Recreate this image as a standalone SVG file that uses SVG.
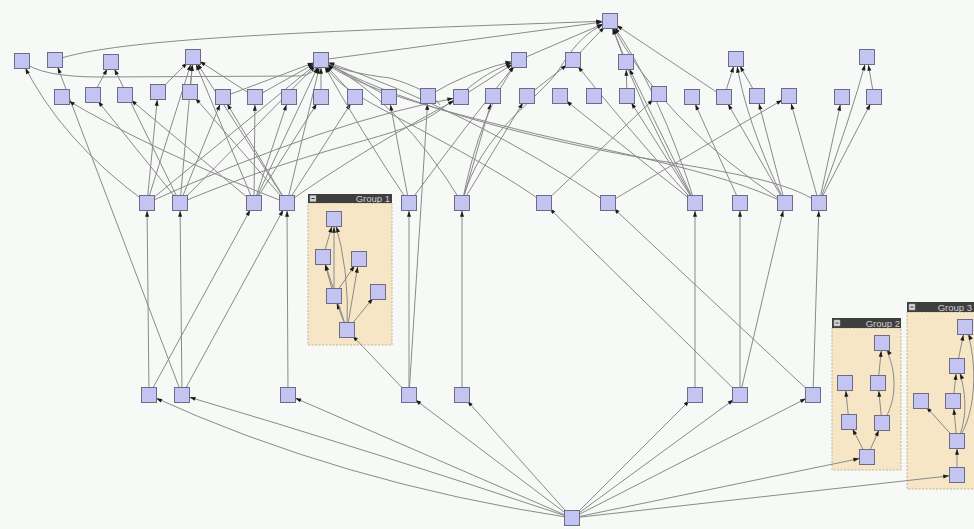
<svg xmlns="http://www.w3.org/2000/svg" width="974" height="529" viewBox="0 0 974 529">
  <style>
    .n rect { fill: #c4c4f3; stroke: #6c6c88; stroke-width: 1; }
    .e path { fill: none; stroke: #8a8a8a; stroke-width: 1; marker-end: url(#ah); }
    .grp-body { fill: #f6e6c6; stroke: #bfb39a; stroke-width: 1; stroke-dasharray: 2 1.5; }
    .grp-head { fill: #3e3e3e; }
    .grp-icon { fill: #d8d8d8; stroke: #9a9a9a; stroke-width: 0.5; }
    .grp-label { font-family: "Liberation Sans", Arial, sans-serif; font-size: 9.5px; fill: #cfcfcf; text-anchor: end; }
  </style>
  <defs>
    <!-- arrowhead drawn 8px short of the path end so it sits on the node border -->
    <marker id="ah" viewBox="0 0 10 10" refX="23" refY="5" markerWidth="6" markerHeight="4" markerUnits="userSpaceOnUse" orient="auto" preserveAspectRatio="none" overflow="visible">
      <path d="M0,0 L10,5 L0,10 z" fill="#1c1c1c"/>
    </marker>
  </defs>

  <rect width="974" height="529" fill="#f6f9f6"/>

  <!-- group containers -->
  <g id="group-1">
    <rect class="grp-body" x="308" y="203" width="84" height="142"/>
    <rect class="grp-head" x="308" y="194" width="84" height="9"/>
    <rect class="grp-icon" x="310" y="195.5" width="6" height="6"/>
    <line x1="311.5" y1="198.5" x2="314.5" y2="198.5" stroke="#333" stroke-width="1"/>
    <text class="grp-label" x="390" y="202">Group 1</text>
  </g>
  <g id="group-2">
    <rect class="grp-body" x="832" y="328" width="69" height="142"/>
    <rect class="grp-head" x="832" y="318" width="69" height="10"/>
    <rect class="grp-icon" x="834" y="320" width="6" height="6"/>
    <line x1="835.5" y1="323" x2="838.5" y2="323" stroke="#333" stroke-width="1"/>
    <text class="grp-label" x="900" y="326.5">Group 2</text>
  </g>
  <g id="group-3">
    <rect class="grp-body" x="907" y="312" width="74" height="177"/>
    <rect class="grp-head" x="907" y="302" width="74" height="10"/>
    <rect class="grp-icon" x="909" y="304" width="6" height="6"/>
    <line x1="910.5" y1="307" x2="913.5" y2="307" stroke="#333" stroke-width="1"/>
    <text class="grp-label" x="972" y="310.5">Group 3</text>
  </g>

  <!-- connectors: every path runs from source centre to target centre -->
  <g id="connectors" class="e">
    <!-- root fan-out -->
    <path d="M572,518 Q340,483 149,395"/>
    <path d="M572,518 Q375,452 182,395"/>
    <path d="M572,518 L288,395"/>
    <path d="M572,518 L409,395"/>
    <path d="M572,518 L462,395"/>
    <path d="M572,518 L695,395"/>
    <path d="M572,518 L740,395"/>
    <path d="M572,518 L813,395"/>
    <path d="M572,518 L867,457"/>
    <path d="M572,518 L957,475"/>

    <!-- lower row to middle row -->
    <path d="M149,395 L147,203"/>
    <path d="M149,395 L254,203"/>
    <path d="M182,395 L180,203"/>
    <path d="M182,395 L287,203"/>
    <path d="M182,395 L55,60"/>
    <path d="M288,395 L287,203"/>
    <path d="M409,395 L409,203"/>
    <path d="M409,395 L428,96"/>
    <path d="M409,395 L347,330"/>
    <path d="M462,395 L462,203"/>
    <path d="M695,395 L695,203"/>
    <path d="M740,395 L740,203"/>
    <path d="M740,395 L544,203"/>
    <path d="M740,395 L785,203"/>
    <path d="M813,395 L819,203"/>
    <path d="M813,395 L608,203"/>

    <!-- middle row upward -->
    <path d="M147,203 Q60,140 22,61"/>
    <path d="M147,203 L158,92"/>
    <path d="M147,203 L193,57"/>
    <path d="M147,203 L321,60"/>
    <path d="M147,203 Q330,120 461,97"/>

    <path d="M180,203 L93,95"/>
    <path d="M180,203 L111,62"/>
    <path d="M180,203 L223,97"/>
    <path d="M180,203 L193,57"/>
    <path d="M180,203 L321,60"/>
    <path d="M180,203 C330,140 400,140 440,110 S 480,75 519,60"/>

    <path d="M254,203 L255,97"/>
    <path d="M254,203 L289,97"/>
    <path d="M254,203 L321,97"/>
    <path d="M254,203 L193,57"/>
    <path d="M254,203 L321,60"/>
    <path d="M254,203 L125,95"/>

    <path d="M287,203 Q150,150 62,97"/>
    <path d="M287,203 L190,92"/>
    <path d="M287,203 L223,97"/>
    <path d="M287,203 L193,57"/>
    <path d="M287,203 L321,60"/>
    <path d="M287,203 L355,97"/>
    <path d="M287,203 C340,165 400,130 461,97"/>

    <path d="M409,203 L389,97"/>
    <path d="M409,203 Q360,130 321,60"/>
    <path d="M409,203 Q470,120 519,60"/>

    <path d="M462,203 L493,96"/>
    <path d="M462,203 L527,96"/>
    <path d="M462,203 Q480,110 519,60"/>
    <path d="M462,203 Q400,100 321,60"/>
    <path d="M462,203 C480,130 540,100 560,68 S 592,30 610,21"/>

    <path d="M544,203 L659,94"/>
    <path d="M544,203 C500,170 420,130 380,108 S 335,80 321,60"/>

    <path d="M608,203 L789,96"/>
    <path d="M608,203 Q470,110 321,60"/>

    <path d="M695,203 L560,96"/>
    <path d="M695,203 L627,96"/>
    <path d="M695,203 L626,62"/>
    <path d="M695,203 Q620,120 573,60"/>
    <path d="M695,203 Q660,90 610,21"/>
    <path d="M695,203 Q640,110 610,21"/>

    <path d="M740,203 L692,97"/>

    <path d="M785,203 L724,97"/>
    <path d="M785,203 L757,96"/>
    <path d="M785,203 Q745,120 736,59"/>
    <path d="M785,203 Q660,120 610,21"/>
    <path d="M785,203 C720,170 600,150 520,130 S 360,90 321,60"/>

    <path d="M819,203 L789,96"/>
    <path d="M819,203 L842,97"/>
    <path d="M819,203 L874,97"/>
    <path d="M819,203 Q850,120 867,57"/>
    <path d="M819,203 C780,175 690,168 600,150 S 390,100 321,60"/>

    <!-- second row to top row -->
    <path d="M93,95 L111,62"/>
    <path d="M158,92 L193,57"/>
    <path d="M190,92 L193,57"/>
    <path d="M223,97 L321,60"/>
    <path d="M255,97 L321,60"/>
    <path d="M255,97 L193,57"/>
    <path d="M321,97 L321,60"/>
    <path d="M355,97 L321,60"/>
    <path d="M389,97 L321,60"/>
    <path d="M428,96 Q470,70 519,60"/>
    <path d="M461,97 L519,60"/>
    <path d="M527,96 L573,60"/>
    <path d="M627,96 L626,62"/>
    <path d="M724,97 L736,59"/>
    <path d="M757,96 L736,59"/>
    <path d="M874,97 L867,57"/>
    <path d="M724,97 L610,21"/>

    <!-- top row links -->
    <path d="M22,61 Q40,77 100,77 L300,76 Q315,75 321,60"/>
    <path d="M321,60 Q340,72 390,78 Q430,90 440,105"/>
    <path d="M55,60 C120,38 300,32 610,21"/>
    <path d="M321,60 L610,21"/>
    <path d="M519,60 L610,21"/>
    <path d="M573,60 L610,21"/>
    <path d="M626,62 L610,21"/>

    <!-- inside group 1 -->
    <path d="M347,330 L334,296"/>
    <path d="M347,330 L378,292"/>
    <path d="M347,330 L359,259"/>
    <path d="M347,330 Q350,270 334,219"/>
    <path d="M347,330 L323,257"/>
    <path d="M334,296 L323,257"/>
    <path d="M334,296 L359,259"/>
    <path d="M334,296 L334,219"/>
    <path d="M323,257 L334,219"/>

    <!-- inside group 2 -->
    <path d="M867,457 L849,422"/>
    <path d="M867,457 L882,423"/>
    <path d="M849,422 L845,383"/>
    <path d="M882,423 L878,383"/>
    <path d="M878,383 L882,343"/>
    <path d="M882,423 C900,400 896,362 882,343"/>

    <!-- inside group 3 -->
    <path d="M957,475 L957,441"/>
    <path d="M957,441 L921,401"/>
    <path d="M957,441 L953,401"/>
    <path d="M953,401 L957,366"/>
    <path d="M957,441 C968,420 967,390 957,366"/>
    <path d="M957,366 L965,327"/>
    <path d="M957,441 C980,410 976,350 965,327"/>
  </g>

  <!-- nodes -->
  <g class="n">
    <g id="n-T"><rect x="602.5" y="13.5" width="15" height="15"/></g>
    <g id="n-A1"><rect x="14.5" y="53.5" width="15" height="15"/></g>
    <g id="n-A2"><rect x="47.5" y="52.5" width="15" height="15"/></g>
    <g id="n-A3"><rect x="103.5" y="54.5" width="15" height="15"/></g>
    <g id="n-A4"><rect x="185.5" y="49.5" width="15" height="15"/></g>
    <g id="n-A5"><rect x="313.5" y="52.5" width="15" height="15"/></g>
    <g id="n-A6"><rect x="511.5" y="52.5" width="15" height="15"/></g>
    <g id="n-A7"><rect x="565.5" y="52.5" width="15" height="15"/></g>
    <g id="n-A8"><rect x="618.5" y="54.5" width="15" height="15"/></g>
    <g id="n-A9"><rect x="728.5" y="51.5" width="15" height="15"/></g>
    <g id="n-A10"><rect x="859.5" y="49.5" width="15" height="15"/></g>

    <g id="n-B1"><rect x="54.5" y="89.5" width="15" height="15"/></g>
    <g id="n-B2"><rect x="85.5" y="87.5" width="15" height="15"/></g>
    <g id="n-B3"><rect x="117.5" y="87.5" width="15" height="15"/></g>
    <g id="n-B4"><rect x="150.5" y="84.5" width="15" height="15"/></g>
    <g id="n-B5"><rect x="182.5" y="84.5" width="15" height="15"/></g>
    <g id="n-B6"><rect x="215.5" y="89.5" width="15" height="15"/></g>
    <g id="n-B7"><rect x="247.5" y="89.5" width="15" height="15"/></g>
    <g id="n-B8"><rect x="281.5" y="89.5" width="15" height="15"/></g>
    <g id="n-B9"><rect x="313.5" y="89.5" width="15" height="15"/></g>
    <g id="n-B10"><rect x="347.5" y="89.5" width="15" height="15"/></g>
    <g id="n-B11"><rect x="381.5" y="89.5" width="15" height="15"/></g>
    <g id="n-B12"><rect x="420.5" y="88.5" width="15" height="15"/></g>
    <g id="n-B13"><rect x="453.5" y="89.5" width="15" height="15"/></g>
    <g id="n-B14"><rect x="485.5" y="88.5" width="15" height="15"/></g>
    <g id="n-B15"><rect x="519.5" y="88.5" width="15" height="15"/></g>
    <g id="n-B16"><rect x="552.5" y="88.5" width="15" height="15"/></g>
    <g id="n-B17"><rect x="586.5" y="88.5" width="15" height="15"/></g>
    <g id="n-B18"><rect x="619.5" y="88.5" width="15" height="15"/></g>
    <g id="n-B19"><rect x="651.5" y="86.5" width="15" height="15"/></g>
    <g id="n-B20"><rect x="684.5" y="89.5" width="15" height="15"/></g>
    <g id="n-B21"><rect x="716.5" y="89.5" width="15" height="15"/></g>
    <g id="n-B22"><rect x="749.5" y="88.5" width="15" height="15"/></g>
    <g id="n-B23"><rect x="781.5" y="88.5" width="15" height="15"/></g>
    <g id="n-B24"><rect x="834.5" y="89.5" width="15" height="15"/></g>
    <g id="n-B25"><rect x="866.5" y="89.5" width="15" height="15"/></g>

    <g id="n-M1"><rect x="139.5" y="195.5" width="15" height="15"/></g>
    <g id="n-M2"><rect x="172.5" y="195.5" width="15" height="15"/></g>
    <g id="n-M3"><rect x="246.5" y="195.5" width="15" height="15"/></g>
    <g id="n-M4"><rect x="279.5" y="195.5" width="15" height="15"/></g>
    <g id="n-M5"><rect x="401.5" y="195.5" width="15" height="15"/></g>
    <g id="n-M6"><rect x="454.5" y="195.5" width="15" height="15"/></g>
    <g id="n-M7"><rect x="536.5" y="195.5" width="15" height="15"/></g>
    <g id="n-M8"><rect x="600.5" y="195.5" width="15" height="15"/></g>
    <g id="n-M9"><rect x="687.5" y="195.5" width="15" height="15"/></g>
    <g id="n-M10"><rect x="732.5" y="195.5" width="15" height="15"/></g>
    <g id="n-M11"><rect x="777.5" y="195.5" width="15" height="15"/></g>
    <g id="n-M12"><rect x="811.5" y="195.5" width="15" height="15"/></g>

    <g id="n-L1"><rect x="141.5" y="387.5" width="15" height="15"/></g>
    <g id="n-L2"><rect x="174.5" y="387.5" width="15" height="15"/></g>
    <g id="n-L3"><rect x="280.5" y="387.5" width="15" height="15"/></g>
    <g id="n-L4"><rect x="401.5" y="387.5" width="15" height="15"/></g>
    <g id="n-L5"><rect x="454.5" y="387.5" width="15" height="15"/></g>
    <g id="n-L6"><rect x="687.5" y="387.5" width="15" height="15"/></g>
    <g id="n-L7"><rect x="732.5" y="387.5" width="15" height="15"/></g>
    <g id="n-L8"><rect x="805.5" y="387.5" width="15" height="15"/></g>

    <g id="n-root"><rect x="564.5" y="510.5" width="15" height="15"/></g>

    <g id="n-G1a"><rect x="326.5" y="211.5" width="15" height="15"/></g>
    <g id="n-G1b"><rect x="315.5" y="249.5" width="15" height="15"/></g>
    <g id="n-G1c"><rect x="351.5" y="251.5" width="15" height="15"/></g>
    <g id="n-G1d"><rect x="326.5" y="288.5" width="15" height="15"/></g>
    <g id="n-G1e"><rect x="370.5" y="284.5" width="15" height="15"/></g>
    <g id="n-G1f"><rect x="339.5" y="322.5" width="15" height="15"/></g>

    <g id="n-G2a"><rect x="874.5" y="335.5" width="15" height="15"/></g>
    <g id="n-G2b"><rect x="837.5" y="375.5" width="15" height="15"/></g>
    <g id="n-G2c"><rect x="870.5" y="375.5" width="15" height="15"/></g>
    <g id="n-G2d"><rect x="841.5" y="414.5" width="15" height="15"/></g>
    <g id="n-G2e"><rect x="874.5" y="415.5" width="15" height="15"/></g>
    <g id="n-G2f"><rect x="859.5" y="449.5" width="15" height="15"/></g>

    <g id="n-G3a"><rect x="957.5" y="319.5" width="15" height="15"/></g>
    <g id="n-G3b"><rect x="949.5" y="358.5" width="15" height="15"/></g>
    <g id="n-G3c"><rect x="913.5" y="393.5" width="15" height="15"/></g>
    <g id="n-G3d"><rect x="945.5" y="393.5" width="15" height="15"/></g>
    <g id="n-G3e"><rect x="949.5" y="433.5" width="15" height="15"/></g>
    <g id="n-G3f"><rect x="949.5" y="467.5" width="15" height="15"/></g>
  </g>
</svg>
